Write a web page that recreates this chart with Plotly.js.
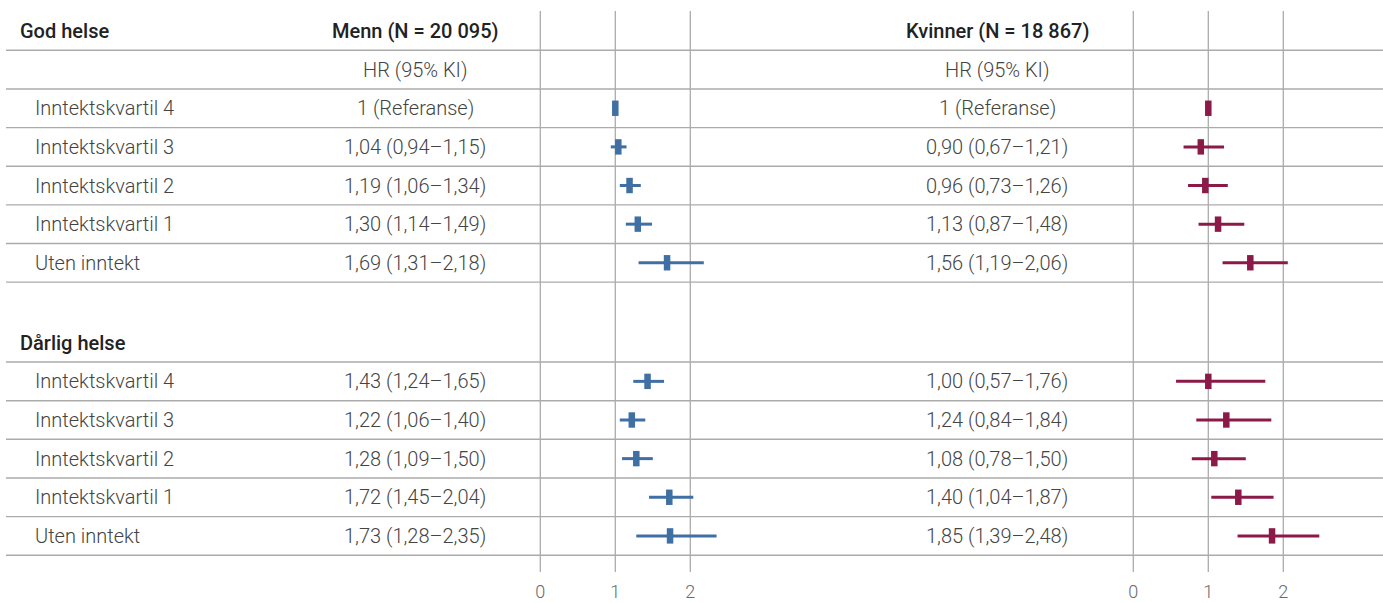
<!DOCTYPE html>
<html><head><meta charset="utf-8">
<script src="https://cdn.plot.ly/plotly-3.0.1.min.js"></script>
<style>html,body{margin:0;padding:0;background:#fff}#chart{width:1383px;height:603px}</style>
</head><body><div id="chart"></div>
<script>
// ---- data ----
const pageTitle = 'INNTEKT';
const groups = ['God helse', 'Dårlig helse'];
const categories = ['Inntektskvartil 4', 'Inntektskvartil 3', 'Inntektskvartil 2', 'Inntektskvartil 1', 'Uten inntekt'];
const menHeader = 'Menn (N = 20 095)';
const womenHeader = 'Kvinner (N = 18 867)';
const colHeader = 'HR (95% KI)';
const refLabel = '1 (Referanse)';

const menGoodHR = [1, 1.04, 1.19, 1.30, 1.69];
const menGoodLo = [1, 0.94, 1.06, 1.14, 1.31];
const menGoodHi = [1, 1.15, 1.34, 1.49, 2.18];
const menPoorHR = [1.43, 1.22, 1.28, 1.72, 1.73];
const menPoorLo = [1.24, 1.06, 1.09, 1.45, 1.28];
const menPoorHi = [1.65, 1.40, 1.50, 2.04, 2.35];

const womenGoodHR = [1, 0.90, 0.96, 1.13, 1.56];
const womenGoodLo = [1, 0.67, 0.73, 0.87, 1.19];
const womenGoodHi = [1, 1.21, 1.26, 1.48, 2.06];
const womenPoorHR = [1.00, 1.24, 1.08, 1.40, 1.85];
const womenPoorLo = [0.57, 0.84, 0.78, 1.04, 1.39];
const womenPoorHi = [1.76, 1.84, 1.50, 1.87, 2.48];

const tickVals = [0, 1, 2];
const tickText = ['0', '1', '2'];

// ---- styling / layout helpers ----
const W = 1383, H = 603;
const menColor = '#3f6fa3';
const womenColor = '#8c1a48';
const gridColor = '#ababab';
const textColor = '#444444';
const FONT = 'Roboto, "Noto Sans", sans-serif';
const px = v => v / W;

// row index -> y position (lower block slightly shifted)
const rowY = i => i + (i >= 8 ? 0.07 : 0);
const goodRows = categories.map((_, k) => rowY(2 + k));
const poorRows = categories.map((_, k) => rowY(9 + k));

const fmt = v => v.toFixed(2).replace('.', ',');
const ciLabel = (hr, lo, hi) => (hr === 1 && lo === 1 && hi === 1) ? refLabel : `${fmt(hr)} (${fmt(lo)}–${fmt(hi)})`;

function trace(hr, lo, hi, rows, color, xaxis) {
  return {
    type: 'scatter', mode: 'markers', xaxis: xaxis, yaxis: 'y',
    x: hr, y: rows,
    marker: { symbol: 'line-ns-open', size: 11, color: color, line: { color: color, width: 6.5 } },
    error_x: {
      type: 'data', symmetric: false,
      array: hi.map((h, i) => h - hr[i]),
      arrayminus: lo.map((l, i) => hr[i] - l),
      thickness: 3, width: 0, color: color
    },
    hoverinfo: 'skip', showlegend: false, cliponaxis: false
  };
}

const data = [
  trace(menGoodHR, menGoodLo, menGoodHi, goodRows, menColor, 'x'),
  trace(menPoorHR, menPoorLo, menPoorHi, poorRows, menColor, 'x'),
  trace(womenGoodHR, womenGoodLo, womenGoodHi, goodRows, womenColor, 'x2'),
  trace(womenPoorHR, womenPoorLo, womenPoorHi, poorRows, womenColor, 'x2')
];

// pixel geometry of the panels
const menZeroPx = 540.3, womenZeroPx = 1133.3, pxPerUnit = 75;
const plotBottom = 572;
const rowTopPx = 31, rowPx = 38.63;
const yTop = -rowTopPx / rowPx, yBot = (plotBottom - rowTopPx) / rowPx;

const shapes = [];
// vertical reference lines
tickVals.forEach(v => {
  ['x', 'x2'].forEach(ax => shapes.push({
    type: 'line', xref: ax, yref: 'y', x0: v, x1: v, y0: (11 - rowTopPx) / rowPx, y1: yBot,
    line: { color: gridColor, width: 1.3 }, layer: 'below'
  }));
});
// horizontal row separators
const sepRows = [0.5, 1.5, 2.5, 3.5, 4.5, 5.5, 6.5, 8.5, 9.5, 10.5, 11.5, 12.5, 13.5];
sepRows.forEach(r => shapes.push({
  type: 'line', xref: 'paper', yref: 'y', x0: px(6), x1: 1, y0: rowY(r), y1: rowY(r),
  line: { color: gridColor, width: 1.4 }, layer: 'below'
}));

const annotations = [];
const ann = (text, xpx, row, opts = {}) => annotations.push(Object.assign({
  text: text, xref: 'paper', yref: 'y', x: px(xpx), y: row, xanchor: 'left', yanchor: 'middle',
  showarrow: false, font: { family: FONT, size: 20, color: textColor, weight: 300 }
}, opts));
const bold = { family: FONT, size: 20, color: '#222', weight: 500 };

// cut-off page title
annotations.push({ text: pageTitle, xref: 'paper', yref: 'paper', x: px(17), y: 1, xanchor: 'left', yanchor: 'bottom',
  yshift: -7, showarrow: false, font: { family: FONT, size: 20, color: '#222', weight: 700 } });

ann(groups[0], 18, rowY(0), { font: bold });
ann(menHeader, 415, rowY(0), { xanchor: 'center', font: bold });
ann(womenHeader, 997, rowY(0), { xanchor: 'center', font: bold });
ann(colHeader, 415, rowY(1), { xanchor: 'center' });
ann(colHeader, 997, rowY(1), { xanchor: 'center' });
ann(groups[1], 18, rowY(8), { font: bold });

categories.forEach((c, k) => {
  ann(c, 33, goodRows[k]);
  ann(ciLabel(menGoodHR[k], menGoodLo[k], menGoodHi[k]), 415, goodRows[k], { xanchor: 'center' });
  ann(ciLabel(womenGoodHR[k], womenGoodLo[k], womenGoodHi[k]), 997, goodRows[k], { xanchor: 'center' });
  ann(c, 33, poorRows[k]);
  ann(ciLabel(menPoorHR[k], menPoorLo[k], menPoorHi[k]), 415, poorRows[k], { xanchor: 'center' });
  ann(ciLabel(womenPoorHR[k], womenPoorLo[k], womenPoorHi[k]), 997, poorRows[k], { xanchor: 'center' });
});

const xCommon = {
  tickvals: tickVals, ticktext: tickText, ticks: 'outside', ticklen: 3, tickcolor: 'rgba(0,0,0,0)',
  showgrid: false, zeroline: false, showline: false, fixedrange: true,
  tickfont: { family: FONT, size: 18, color: '#6a6a6a', weight: 300 }
};

const layout = {
  width: W, height: H,
  margin: { l: 0, r: 0, t: 0, b: H - plotBottom, pad: 0 },
  paper_bgcolor: '#fff', plot_bgcolor: '#fff',
  xaxis: Object.assign({}, xCommon, { range: [-menZeroPx / pxPerUnit, (W - menZeroPx) / pxPerUnit], anchor: 'y' }),
  xaxis2: Object.assign({}, xCommon, { range: [-womenZeroPx / pxPerUnit, (W - womenZeroPx) / pxPerUnit], overlaying: 'x', anchor: 'y', side: 'bottom' }),
  yaxis: { range: [yBot, yTop], visible: false, fixedrange: true },
  shapes: shapes, annotations: annotations, showlegend: false
};

Plotly.newPlot('chart', data, layout, { displayModeBar: false, staticPlot: true });
</script>
</body></html>
